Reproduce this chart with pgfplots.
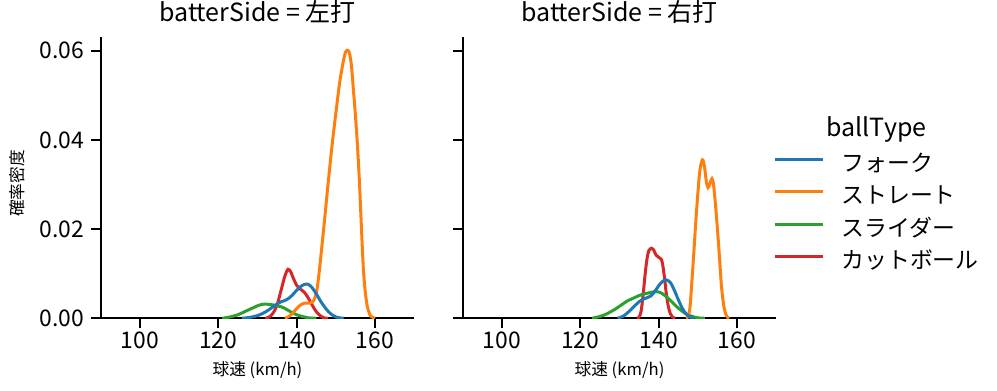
\documentclass[border=0pt]{standalone}
\usepackage{fontspec}
\setmainfont{Noto Sans CJK JP}
\usepackage{pgfplots}
\pgfplotsset{compat=1.18}
\definecolor{cF}{HTML}{1F77B4}
\definecolor{cS}{HTML}{FF7F0E}
\definecolor{cL}{HTML}{2CA02C}
\definecolor{cC}{HTML}{D62728}
\pgfplotsset{kde/.style={
  width=313.4pt, height=281.6pt, scale only axis,
  xmin=90, xmax=170, ymin=0, ymax=0.06314,
  axis x line*=bottom, axis y line*=left,
  axis line style={line width=2pt, black},
  xtick={100,120,140,160}, ytick={0,0.02,0.04,0.06},
  major tick style={line width=2pt, black}, major tick length=10pt,
  tick align=outside,
  ticklabel style={font=\fontsize{22.9}{27}\selectfont},
  /pgf/number format/assume math mode=true,
  yticklabel style={xshift=-3pt, /pgf/number format/.cd, fixed, fixed zerofill, precision=2},
  scaled y ticks=false,
  title style={font=\fontsize{25}{30}\selectfont, at={(rel axis cs:0.5,1)}, anchor=base, yshift=8.7pt},
  xlabel style={font=\fontsize{16.7}{20}\selectfont, at={(rel axis cs:0.5,0)}, anchor=base, yshift=-57.7pt},
  xlabel={球速 (km/h)},
  every axis plot/.append style={line width=3pt, smooth, no markers},
}}
\begin{document}
\begin{tikzpicture}
\useasboundingbox (0,0) rectangle (997pt,391pt);
\begin{axis}[kde, at={(100.8pt,72.7pt)}, anchor=south west,
  title={batterSide = 左打},
  ylabel={確率密度},
  ylabel style={font=\fontsize{16.7}{20}\selectfont, at={(rel axis cs:-0.268,0.479)}, anchor=center},
]
\addplot[cC] coordinates {(132,0)(133,0.0003)(134,0.0012)(135,0.003)(136,0.0062)(137,0.0095)(137.8,0.0110)(138.5,0.0104)(139,0.0093)(140,0.0074)(141,0.0065)(142,0.0058)(143,0.0045)(144,0.0029)(145,0.0015)(146,0.0006)(147,0.0001)(148,0)};
\addplot[cL] coordinates {(121,0)(123,0.0003)(125,0.0008)(127,0.0016)(129,0.0024)(130,0.0028)(131,0.0031)(132,0.0032)(133,0.0031)(134,0.0030)(135,0.0028)(136,0.0026)(137,0.0022)(138,0.0017)(139,0.0012)(140,0.0008)(141,0.0005)(142,0.0003)(143,0.0001)(145,0)};
\addplot[cS] coordinates {(137,0)(138,0.0004)(139,0.0012)(140,0.0022)(141,0.0030)(142,0.0034)(143,0.0034)(144,0.0036)(144.6,0.0045)(145.1,0.0060)(145.5,0.0085)(146,0.0124)(147,0.021)(148,0.030)(149,0.0385)(150,0.046)(151,0.053)(152,0.058)(152.5,0.0597)(153,0.0601)(153.5,0.0594)(154,0.0565)(154.5,0.051)(155,0.0455)(155.5,0.039)(156,0.031)(156.5,0.021)(157,0.0115)(157.5,0.006)(158,0.0028)(158.5,0.0012)(159,0.0004)(160,0)};
\addplot[cF] coordinates {(126,0)(128,0.0002)(130,0.0006)(132,0.0014)(134,0.0026)(135,0.0032)(136,0.0037)(137,0.0040)(138,0.0045)(139,0.0053)(140,0.0063)(141,0.0071)(142,0.0076)(143,0.0076)(144,0.0068)(145,0.0055)(146,0.0040)(147,0.0027)(148,0.0016)(149,0.0008)(150,0.0003)(151,0.0001)(152,0)};
\end{axis}
\begin{axis}[kde, at={(462.8pt,72.7pt)}, anchor=south west,
  title={batterSide = 右打},
  yticklabels={},
  legend style={at={(rel axis cs:0.991,0.575)}, anchor=north west, draw=none, fill=none,
    inner sep=0pt, outer sep=0pt,
    font=\fontsize{22.9}{27}\selectfont, row sep=12.5pt, column sep=17pt,
    nodes={inner sep=0pt, text height=15pt, text depth=5pt}},
  legend cell align=left,
  legend image code/.code={\draw[#1, line width=3pt] (0pt,7pt) -- (48pt,7pt);},
  legend entries={フォーク, ストレート, スライダー, カットボール},
]
\addlegendimage{cF}
\addlegendimage{cS}
\addlegendimage{cL}
\addlegendimage{cC}
\addplot[cC, forget plot] coordinates {(134.5,0)(135,0.0003)(135.5,0.0015)(136,0.005)(136.5,0.0095)(137,0.0132)(137.5,0.0152)(138.2,0.0157)(138.8,0.0152)(139.3,0.0142)(140,0.0137)(140.6,0.0133)(141,0.0122)(141.5,0.0090)(142,0.0052)(142.5,0.0025)(143,0.0010)(143.5,0.0003)(144.2,0)};
\addplot[cL, forget plot] coordinates {(123,0)(124,0.0002)(125,0.0004)(126,0.0007)(127,0.0011)(128,0.0016)(129,0.0021)(130,0.0027)(131,0.0033)(132,0.0039)(133,0.0043)(134,0.0047)(135,0.0051)(136,0.0054)(137,0.0056)(138,0.0058)(139,0.0060)(140,0.0059)(141,0.0055)(142,0.0048)(143,0.0040)(144,0.0031)(145,0.0023)(146,0.0016)(147,0.0010)(148,0.0006)(149,0.0003)(150,0.0001)(151.8,0)};
\addplot[cS, forget plot] coordinates {(147,0)(147.5,0.0004)(148,0.0025)(148.5,0.0085)(149,0.015)(149.5,0.022)(150,0.028)(150.5,0.033)(151,0.0352)(151.3,0.0355)(151.7,0.034)(152.2,0.0305)(152.6,0.0293)(153,0.0300)(153.6,0.0313)(154,0.030)(154.5,0.0255)(155,0.020)(155.5,0.014)(156,0.0075)(156.5,0.0035)(157,0.0013)(157.5,0.0003)(158,0)};
\addplot[cF, forget plot] coordinates {(129.5,0)(131,0.0005)(132,0.0012)(133,0.0020)(134,0.0029)(135,0.0037)(136,0.0043)(137,0.0046)(138,0.0050)(139,0.0060)(140,0.0073)(141,0.0083)(142,0.0086)(143,0.0080)(144,0.0063)(145,0.0042)(146,0.0023)(147,0.0010)(148,0.0003)(149,0)};
\end{axis}
\node[anchor=base, font=\fontsize{25}{30}\selectfont] at (876.5pt,254.3pt) {ballType};
\end{tikzpicture}
\end{document}
